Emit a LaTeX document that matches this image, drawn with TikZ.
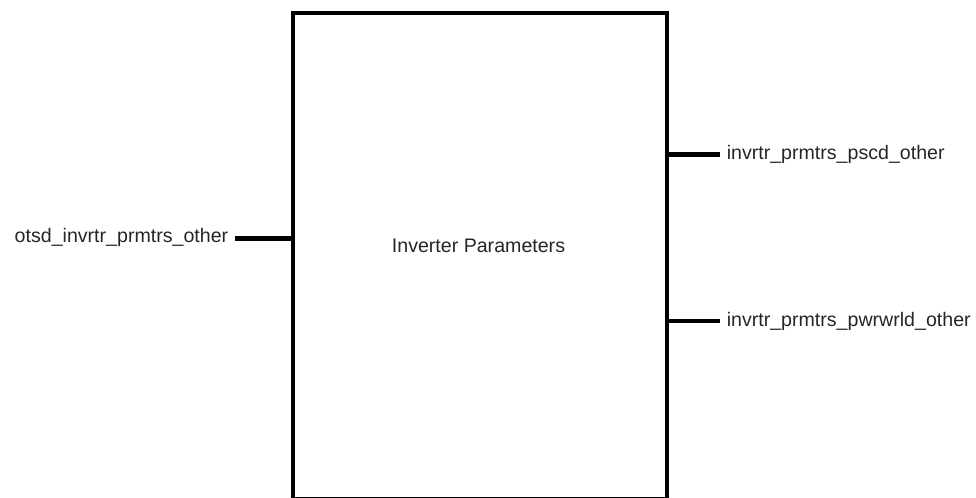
\documentclass[tikz,border=0pt]{standalone}
\usepackage{fontspec}
\setmainfont{Liberation Sans}
\begin{document}
\begin{tikzpicture}[x=0.75pt,y=-0.75pt,
  thick line/.style={line width=3.2pt},
  blockbox/.style={draw, line width=3.2pt, fill=white},
  portlabel/.style={font=\fontsize{14.7pt}{16pt}\selectfont, inner sep=0pt, text=black!85}]
\useasboundingbox (0,0) rectangle (976,498);
% main block
\node[blockbox, minimum width=374*0.75pt, minimum height=486*0.75pt, anchor=north west] (blk) at (290.5,11) {};
\node[portlabel] (title) at (478.5,245.5) {Inverter Parameters};
% input port
\coordinate (inL) at (290.5,238.5);
\coordinate (inEnd) at (235,238.5);
\node[portlabel, anchor=east] (lblIn) at (228.5,237.5) {otsd\_invrtr\_prmtrs\_other};
\draw[thick line] (inEnd) -- (inL);
% output ports
\coordinate (outA) at (664.5,154.5);
\coordinate (outAEnd) at (720,154.5);
\node[portlabel, anchor=west] (lblA) at (726.5,154.5) {invrtr\_prmtrs\_pscd\_other};
\draw[thick line] (outA) -- (outAEnd);
\coordinate (outB) at (664.5,321);
\coordinate (outBEnd) at (720,321);
\node[portlabel, anchor=west] (lblB) at (726.5,321) {invrtr\_prmtrs\_pwrwrld\_other};
\draw[thick line] (outB) -- (outBEnd);
\end{tikzpicture}
\end{document}
